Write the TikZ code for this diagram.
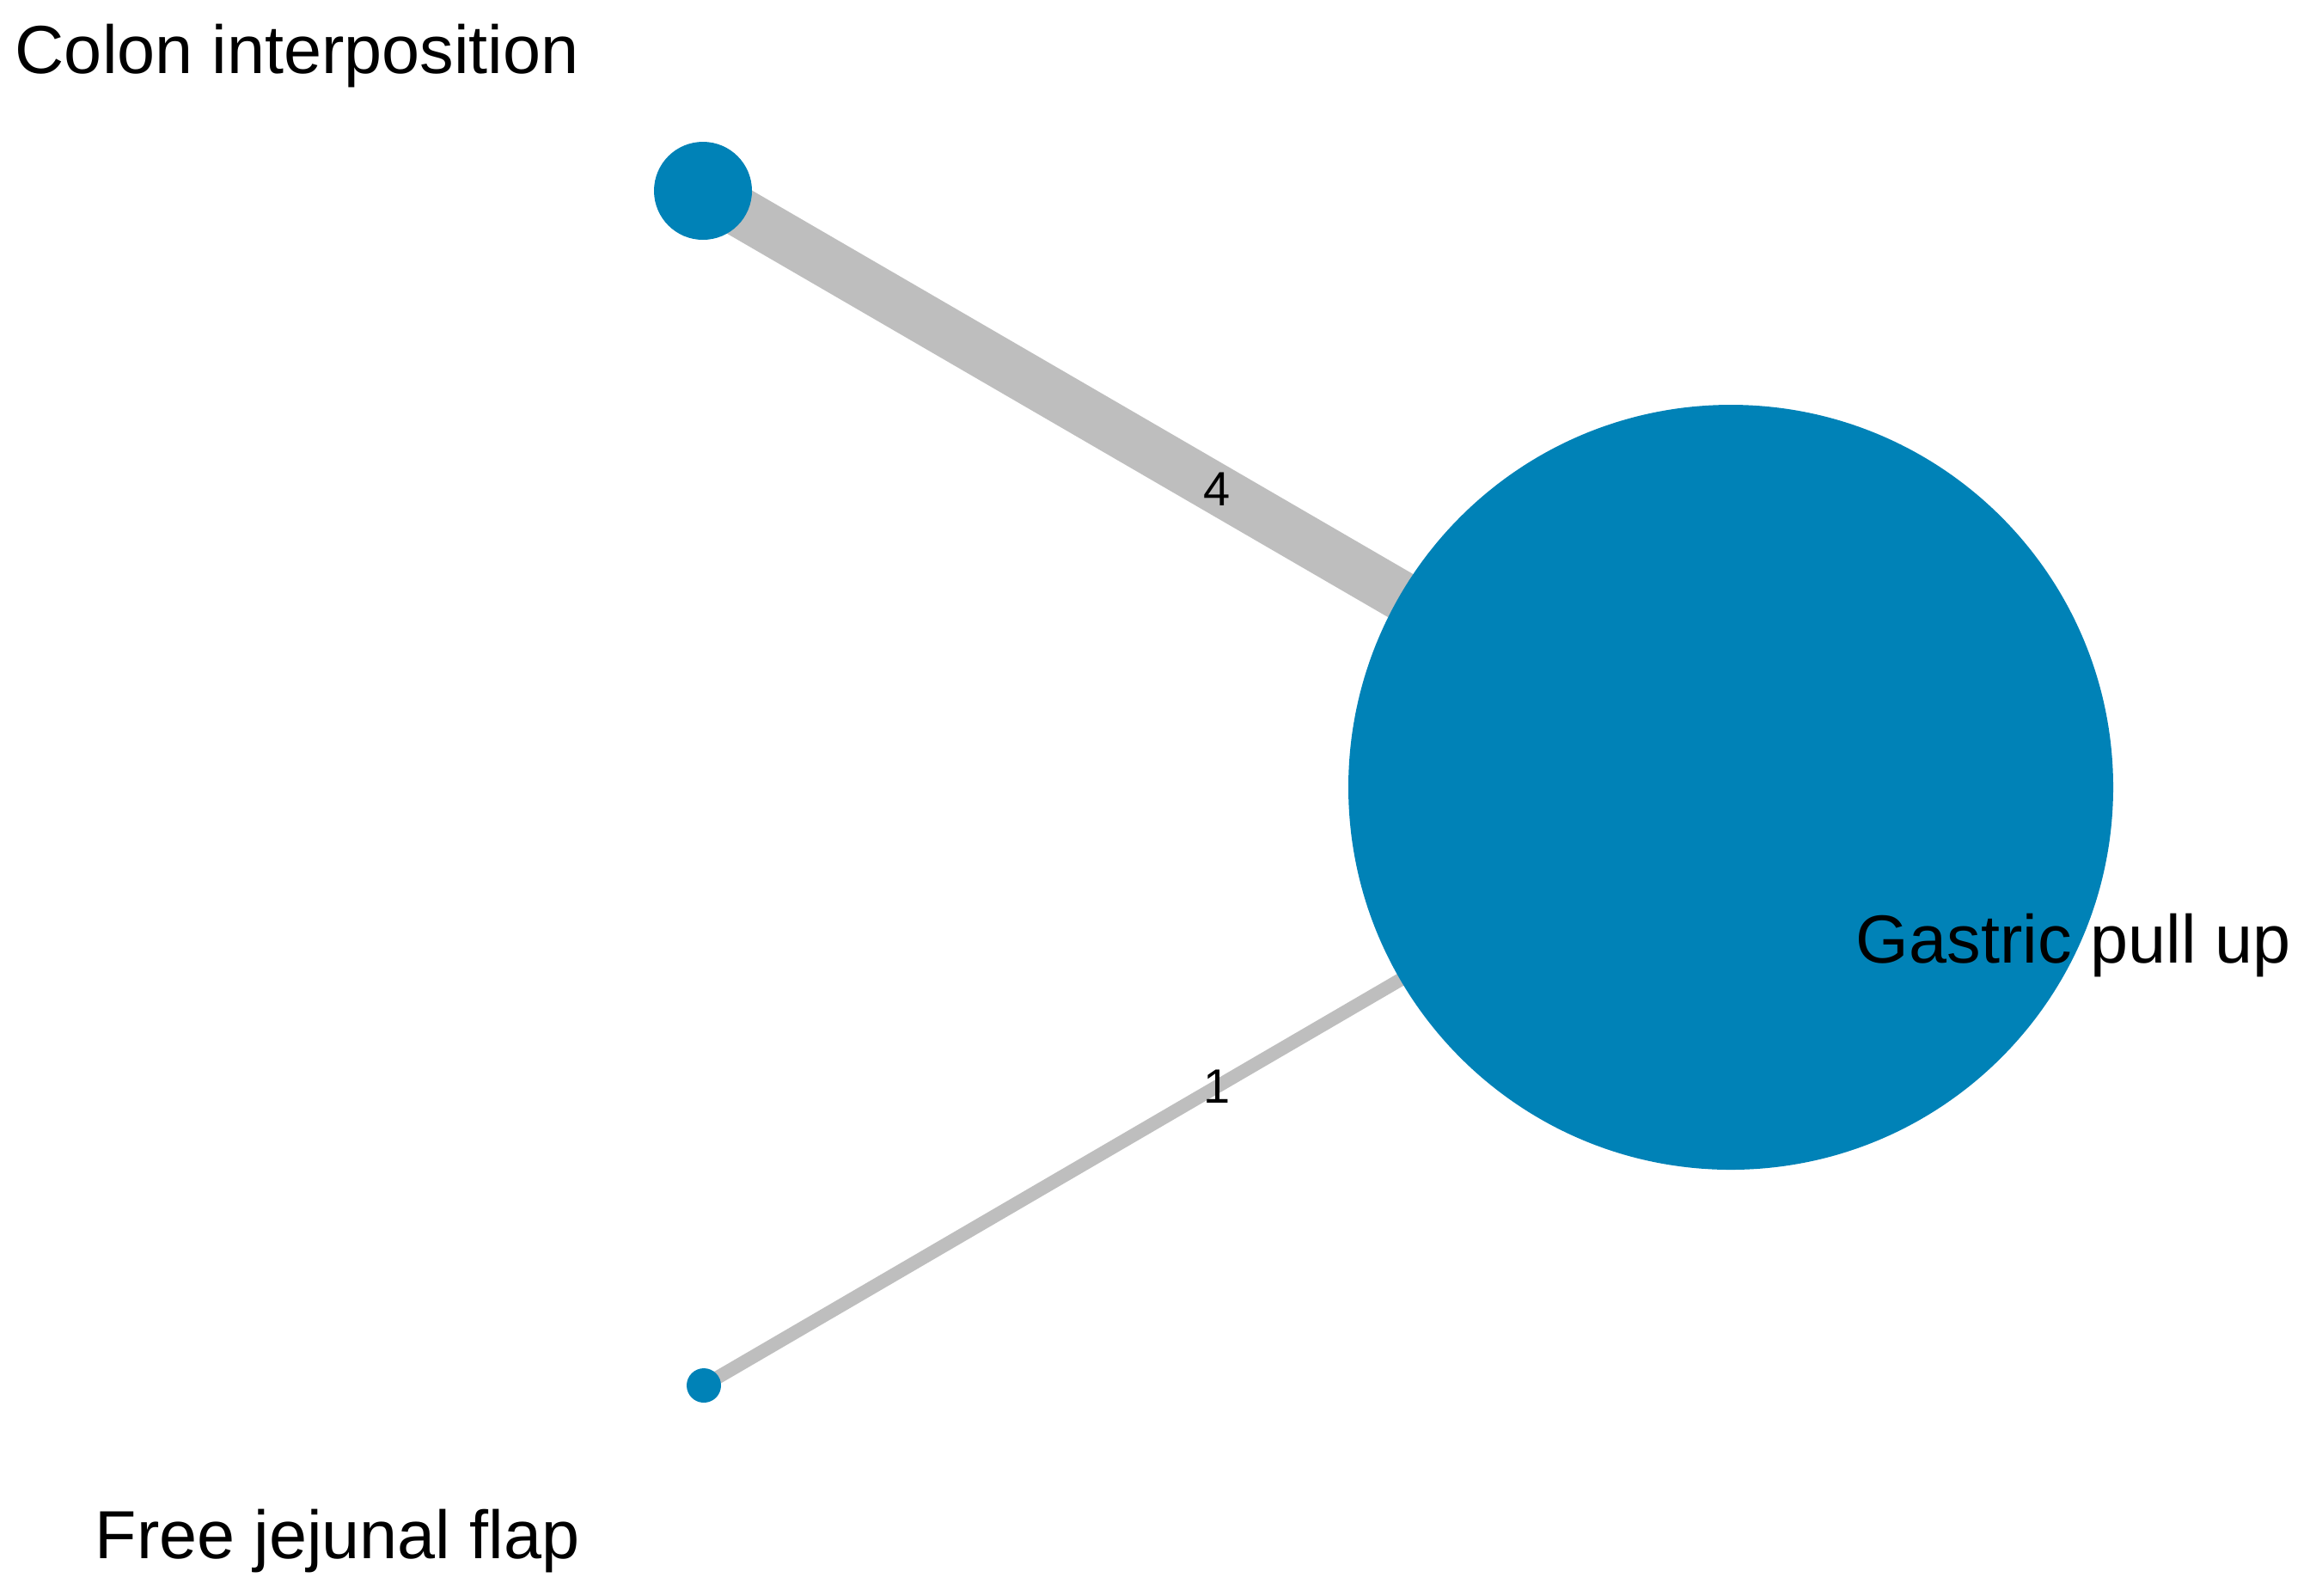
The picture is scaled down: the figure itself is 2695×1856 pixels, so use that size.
\documentclass[tikz,border=0pt]{standalone}
\usepackage{fontspec}
\setmainfont{Liberation Sans}
\usetikzlibrary{backgrounds}
\definecolor{nodeblue}{HTML}{0082B7}
\definecolor{edgegrey}{HTML}{BEBEBE}
\tikzset{
  vtx/.style={circle, fill=nodeblue, draw=none, inner sep=0pt},
  lbl/.style={anchor=base west, inner sep=0pt, font=\fontsize{19.8pt}{24pt}\selectfont, text=black},
  elbl/.style={inner sep=0pt, font=\fontsize{14pt}{16pt}\selectfont, text=black},
  edg/.style={draw=edgegrey, line cap=butt}
}
\begin{document}
\begin{tikzpicture}[x=0.25pt, y=-0.25pt]
\useasboundingbox (0,0) rectangle (2695,1856);
\node[vtx, minimum size=28.5pt] (colon) at (818,222) {};
\node[vtx, minimum size=222.5pt] (gastric) at (2014,916) {};
\node[vtx, minimum size=10pt] (jejunal) at (819,1612) {};
\begin{scope}[on background layer]
\draw[edg, line width=14.5pt] (colon.center) -- node[elbl] (w4) {4} (gastric.center);
\draw[edg, line width=3.9pt] (jejunal.center) -- node[elbl] (w1) {1} (gastric.center);
\end{scope}
\node[lbl] (tcolon) at (17,85) {Colon interposition};
\node[lbl] (tgastric) at (2159,1120) {Gastric pull up};
\node[lbl] (tjejunal) at (110,1813) {Free jejunal flap};
\end{tikzpicture}
\end{document}
